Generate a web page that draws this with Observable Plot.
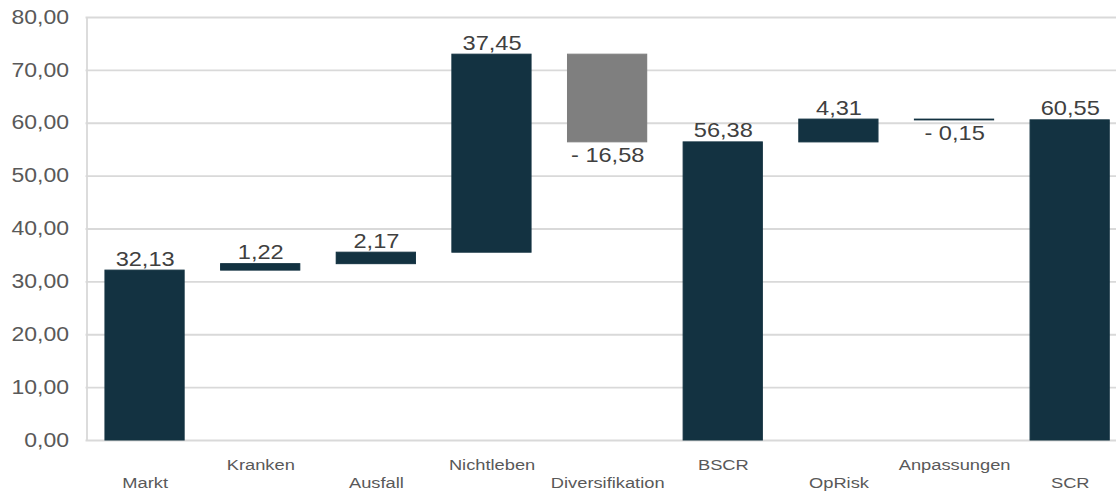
<!DOCTYPE html>
<html>
<head>
<meta charset="utf-8">
<script src="https://cdn.jsdelivr.net/npm/d3@7"></script>
<script src="https://cdn.jsdelivr.net/npm/@observablehq/plot@0.6"></script>
<style>
  html, body { margin: 0; padding: 0; background: #fff; overflow: hidden; }
  #chart svg { display: block; }
</style>
</head>
<body>
<div id="chart"></div>
<script>
// ---- data ----
const categories = ["Markt", "Kranken", "Ausfall", "Nichtleben", "Diversifikation", "BSCR", "OpRisk", "Anpassungen", "SCR"];
const values = [32.13, 1.22, 2.17, 37.45, -16.58, 56.38, 4.31, -0.15, 60.55];
const kinds = ["delta", "delta", "delta", "delta", "delta", "total", "delta", "delta", "total"];
const groups = ["modul", "modul", "modul", "modul", "diversifikation", "modul", "modul", "modul", "modul"];
const yTicks = [0, 10, 20, 30, 40, 50, 60, 70, 80];

// ---- build waterfall rows ----
let running = 0;
const rows = categories.map((c, i) => {
  const v = values[i];
  let y1, y2;
  if (kinds[i] === "total") { y1 = 0; y2 = v; running = v; }
  else { y1 = running; y2 = running + v; running = y2; }
  return {cat: c, value: v, y1, y2, group: groups[i], idx: i,
          top: Math.max(y1, y2), bottom: Math.min(y1, y2)};
});

const fmt = v => (v < 0 ? "- " : "") + Math.abs(v).toFixed(2).replace(".", ",");
const tickFmt = v => v.toFixed(2).replace(".", ",");

// horizontal stretch of the original picture
const S = 1.18;
const H = 491;
const VW = 956;
const mL = 85.5 / S, mT = 17, mB = 51;
const navy = "#133241";

const chart = Plot.plot({
  width: VW,
  height: H,
  marginLeft: mL,
  marginRight: 0,
  marginTop: mT,
  marginBottom: mB,
  style: {fontFamily: "'Liberation Sans', Arial, sans-serif", background: "#fff"},
  x: {domain: categories, paddingInner: 0.32, paddingOuter: 0.16, axis: null},
  y: {domain: [0, 80], axis: null},
  color: {domain: ["modul", "diversifikation"], range: [navy, "#7f7f7f"]},
  marks: [
    Plot.ruleY(yTicks, {stroke: "#d9d9d9", strokeWidth: 1.8}),
    Plot.axisY({ticks: yTicks, tickSize: 0, tickPadding: 17 / S, tickFormat: tickFmt,
                fontSize: 19.5, fill: "#595959"}),
    Plot.barY(rows, {x: "cat", y1: "y1", y2: "y2", fill: "group", stroke: "group", strokeWidth: 1}),
    Plot.text(rows.filter(d => d.value >= 0), {x: "cat", y: "top", text: d => fmt(d.value),
      lineAnchor: "bottom", dy: -5, fontSize: 20, fill: "#404040"}),
    Plot.text(rows.filter(d => d.value < 0), {x: "cat", y: "bottom", text: d => fmt(d.value),
      lineAnchor: "top", dy: 5, fontSize: 20, fill: "#404040"}),
    Plot.text(rows.filter(d => d.idx % 2 === 1), {x: "cat", y: () => 0, text: "cat",
      lineAnchor: "bottom", dy: 29, fontSize: 15.5, fill: "#595959"}),
    Plot.text(rows.filter(d => d.idx % 2 === 0), {x: "cat", y: () => 0, text: "cat",
      lineAnchor: "bottom", dy: 47, fontSize: 15.5, fill: "#595959"})
  ]
});

// vertical axis line at the left edge of the plot frame
d3.select(chart).append("line")
  .attr("x1", 87 / S).attr("x2", 87 / S)
  .attr("y1", mT).attr("y2", H - mB)
  .attr("stroke", "#d9d9d9").attr("stroke-width", 1.8 / S);

chart.setAttribute("viewBox", `0 0 ${VW} ${H}`);
chart.setAttribute("preserveAspectRatio", "none");
chart.setAttribute("width", VW * S);
chart.setAttribute("height", H);
chart.style.width = (VW * S) + "px";
chart.style.height = H + "px";
chart.style.maxWidth = "none";

document.getElementById("chart").appendChild(chart);
</script>
</body>
</html>
